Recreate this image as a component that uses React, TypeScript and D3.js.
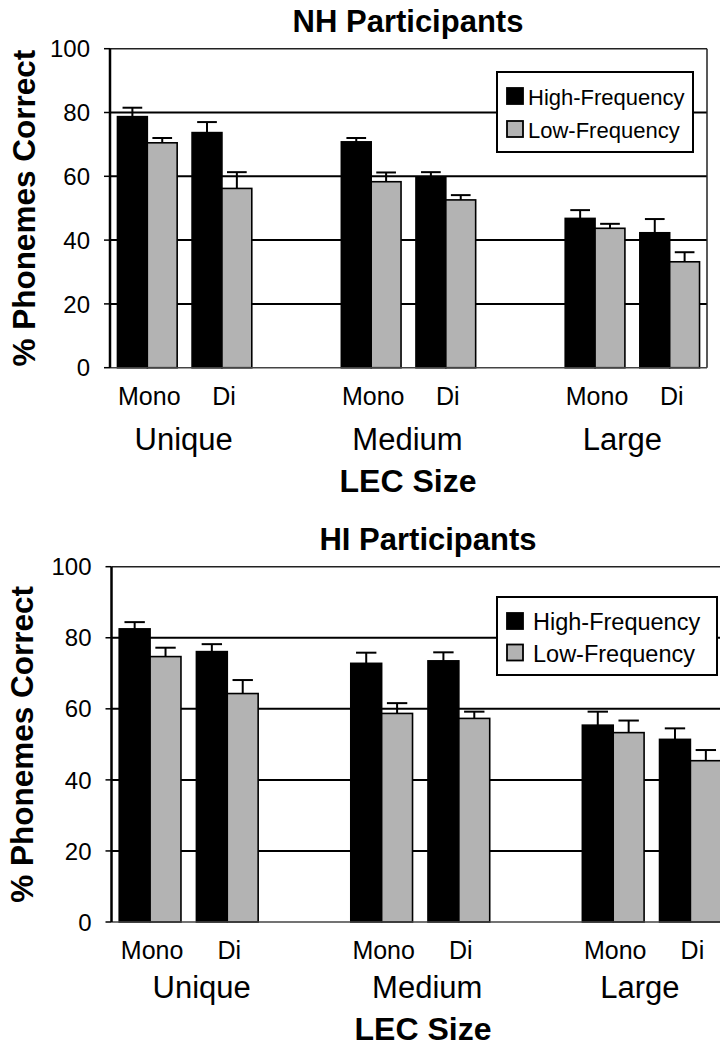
import React from 'react';
import * as d3 from 'd3';

// categories
const sizes = ['Unique', 'Medium', 'Large'];
const syllables = ['Mono', 'Di'];
const slots = ['Unique|Mono', 'Unique|Di', 'gap1', 'Medium|Mono', 'Medium|Di', 'gap2', 'Large|Mono', 'Large|Di'];
const conditions = sizes.flatMap(s => syllables.map(w => s + '|' + w));
const seriesNames = ['High-Frequency', 'Low-Frequency'];
const yTicks = [0, 20, 40, 60, 80, 100];

// NH participants (% phonemes correct, upper error bar)
const nhHigh = [78.7, 73.7, 70.8, 59.6, 46.8, 42.3];
const nhHighErr = [2.8, 3.3, 1.2, 1.7, 2.6, 4.3];
const nhLow = [70.5, 56.2, 58.3, 52.6, 43.7, 33.2];
const nhLowErr = [1.5, 5.1, 2.9, 1.5, 1.4, 3.0];

// HI participants
const hiHigh = [82.5, 76.1, 72.8, 73.5, 55.4, 51.4];
const hiHighErr = [1.9, 2.1, 3.0, 2.4, 3.8, 3.1];
const hiLow = [74.7, 64.3, 58.7, 57.3, 53.3, 45.4];
const hiLowErr = [2.5, 3.8, 2.9, 1.9, 3.4, 3.0];

const colors = { 'High-Frequency': '#000000', 'Low-Frequency': '#b3b3b3' };
const font = '"Liberation Sans", Arial, Helvetica, sans-serif';

function Panel(props) {
  let { title, high, highErr, low, lowErr, box, lay } = props;

  let x = d3.scaleBand().domain(slots).range([box.left, box.right]);
  let inner = d3.scaleBand().domain(seriesNames).range([0, x.bandwidth()]).paddingOuter(0.25);
  let y = d3.scaleLinear().domain([0, 100]).range([box.bottom, box.top]);
  let bw = inner.bandwidth();

  let rows = conditions.flatMap((c, i) => [
    { c, s: seriesNames[0], v: high[i], e: highErr[i] },
    { c, s: seriesNames[1], v: low[i], e: lowErr[i] }
  ]);

  return (
    <g fontFamily={font}>
      <text x={lay.titleX} y={box.top - 17} textAnchor='middle' fontSize={31} fontWeight='bold'>{title}</text>

      {yTicks.filter(t => t > 0 && t < 100).map(t =>
        <line key={'g' + t} x1={box.left} x2={box.right} y1={y(t)} y2={y(t)} stroke='#000' strokeWidth={2} />)}

      {rows.map(r => {
        let bx = x(r.c) + inner(r.s);
        return (
          <g key={r.c + r.s}>
            <rect x={bx} y={y(r.v)} width={bw} height={y(0) - y(r.v)}
              fill={colors[r.s]} stroke='#000' strokeWidth={1.6} />
            <line x1={bx + bw / 2} x2={bx + bw / 2} y1={y(r.v)} y2={y(r.v + r.e)} stroke='#000' strokeWidth={2} />
            <line x1={bx + bw / 2 - bw * 0.33} x2={bx + bw / 2 + bw * 0.33} y1={y(r.v + r.e)} y2={y(r.v + r.e)}
              stroke='#000' strokeWidth={2} />
          </g>
        );
      })}

      <line x1={box.left} x2={box.right} y1={y(100)} y2={y(100)} stroke='#222' strokeWidth={1.5} />
      <line x1={box.right} x2={box.right} y1={y(100)} y2={y(0)} stroke='#222' strokeWidth={1.5} />
      <line x1={box.left} x2={box.right} y1={y(0)} y2={y(0)} stroke='#444' strokeWidth={1.5} />
      <line x1={box.left} x2={box.left} y1={y(100)} y2={y(0)} stroke='#000' strokeWidth={2.5} />

      {yTicks.map(t => (
        <g key={'t' + t}>
          <line x1={box.left - 6} x2={box.left} y1={y(t)} y2={y(t)} stroke='#000' strokeWidth={1.5} />
          <text x={box.left - 20} y={y(t)} dy='0.36em' textAnchor='end' fontSize={24}>{t}</text>
        </g>
      ))}

      <text transform={'translate(' + lay.yLabelX + ',' + (box.top + box.bottom) / 2 + ') rotate(-90)'}
        textAnchor='middle' fontSize={31.5} fontWeight='bold'>% Phonemes Correct</text>

      {conditions.map(c => (
        <text key={'l' + c} x={x(c) + x.bandwidth() / 2 + 2} y={y(0) + 37} textAnchor='middle' fontSize={25}>
          {c.split('|')[1]}
        </text>
      ))}

      {sizes.map((s, i) => (
        <text key={'s' + s} x={(x(s + '|Mono') + x(s + '|Di') + x.bandwidth()) / 2 + lay.groupShift[i]}
          y={y(0) + lay.groupDy} textAnchor='middle' fontSize={31}>{s}</text>
      ))}

      <text x={lay.lecX} y={y(0) + lay.lecDy} textAnchor='middle' fontSize={32} fontWeight='bold'>LEC Size</text>

      <g transform={'translate(' + lay.legX + ',' + lay.legY + ')'}>
        <rect x={0} y={0} width={lay.legW} height={lay.legH} fill='#fff' stroke='#000' strokeWidth={2} />
        {seriesNames.map((s, i) => (
          <g key={'k' + s} transform={'translate(0,' + (i * lay.legStep) + ')'}>
            <rect x={10} y={16} width={16} height={16} fill={colors[s]} stroke='#000' strokeWidth={1.8} />
            <text x={lay.legTextX} y={33} fontSize={lay.legFont}>{s}</text>
          </g>
        ))}
      </g>
    </g>
  );
}

export default function App() {
  return (
    <svg width={720} height={1046} style={{ position: 'absolute', left: 0, top: 0, background: '#fff' }}>
      <rect x={0} y={0} width={720} height={1046} fill='#fff' />
      <Panel title='NH Participants' high={nhHigh} highErr={nhHighErr} low={nhLow} lowErr={nhLowErr}
        box={{ left: 110, right: 707, top: 48.7, bottom: 367.7 }}
        lay={{ titleX: 408, yLabelX: 35, groupDy: 82, groupShift: [-1, -1, -10], lecX: 408, lecDy: 124,
          legX: 497, legY: 72, legW: 196, legH: 80, legStep: 33, legTextX: 31, legFont: 22 }} />
      <Panel title='HI Participants' high={hiHigh} highErr={hiHighErr} low={hiLow} lowErr={hiLowErr}
        box={{ left: 111.5, right: 729, top: 566.7, bottom: 922 }}
        lay={{ titleX: 428, yLabelX: 33, groupDy: 76, groupShift: [13, 7, -12], lecX: 423, lecDy: 118,
          legX: 497, legY: 597, legW: 220, legH: 78, legStep: 31.5, legTextX: 36, legFont: 23.5 }} />
    </svg>
  );
}
